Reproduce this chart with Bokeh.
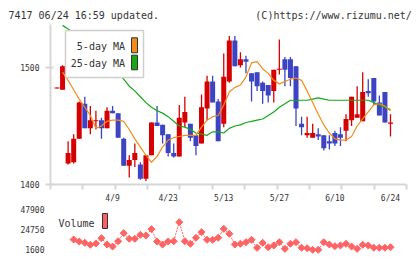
import numpy as np
from bokeh.plotting import figure
from bokeh.layouts import column
from bokeh.models import Range1d, FixedTicker, ColumnDataSource
from bokeh.core.properties import value
from bokeh.embed import file_html
from bokeh.resources import INLINE

nan = float("nan")

# ---- data ----
opens = [1482, 1481, 1418, 1419, 1439, 1469, 1448, 1454, 1455, 1448,
         1463, 1461, 1439, 1416, 1421, 1417, 1405, 1425, 1453, 1451,
         1443, 1427, 1424, 1453, 1452, 1442, 1435, 1465, 1488, 1471,
         1452, 1488, 1523, 1502, 1507, 1495, 1496, 1487, 1485, 1480,
         1498, 1507, 1507, 1501, 1452, 1442, 1440, 1443, 1442, 1437,
         1444, 1443, 1446, 1455, 1457, 1454, 1480, 1491, 1470, 1479, 1452]
highs = [1483, 1502, 1437, 1443, 1471, 1475, 1467, 1463, 1457, 1466,
         1467, 1461, 1440, 1425, 1435, 1419, 1425, 1453, 1467, 1451,
         1443, 1435, 1468, 1475, 1452, 1442, 1477, 1493, 1493, 1473,
         1512, 1527, 1527, 1513, 1510, 1495, 1496, 1488, 1485, 1498,
         1524, 1509, 1509, 1501, 1458, 1458, 1452, 1448, 1442, 1442,
         1446, 1449, 1460, 1475, 1484, 1496, 1490, 1491, 1476, 1479, 1460]
lows = [1482, 1481, 1417, 1418, 1439, 1448, 1443, 1447, 1439, 1448,
        1461, 1440, 1416, 1406, 1415, 1404, 1403, 1425, 1450, 1435,
        1424, 1423, 1424, 1449, 1437, 1425, 1435, 1455, 1470, 1437,
        1449, 1487, 1501, 1500, 1495, 1471, 1480, 1469, 1470, 1470,
        1494, 1484, 1484, 1450, 1442, 1440, 1440, 1438, 1429, 1430,
        1433, 1433, 1437, 1450, 1457, 1454, 1475, 1468, 1459, 1453, 1441]
closes = [1483, 1501, 1427, 1439, 1470, 1448, 1455, 1455, 1448, 1463,
          1461, 1440, 1416, 1421, 1427, 1405, 1425, 1453, 1450, 1442,
          1427, 1424, 1457, 1462, 1440, 1433, 1466, 1488, 1470, 1437,
          1492, 1523, 1501, 1507, 1505, 1488, 1484, 1480, 1476, 1498,
          1499, 1498, 1491, 1465, 1449, 1444, 1444, 1441, 1431, 1435,
          1435, 1440, 1456, 1475, 1460, 1479, 1478, 1471, 1459, 1453, 1453]
ma5 = [nan, 1496, 1489, 1481, 1473, 1466, 1459, 1448, 1450, 1454, 1455,
       1455, 1454, 1447, 1439, 1432, 1425, 1419, 1424, 1432, 1438,
       1440, 1441, 1442, 1442, 1442, 1449, 1455, 1458, 1459, 1468,
       1479, 1483, 1485, 1492, 1504, 1505, 1499, 1495, 1489, 1486,
       1488, 1490, 1491, 1489, 1480, 1470, 1460, 1451, 1444, 1439,
       1438, 1438, 1441, 1450, 1456, 1462, 1468, 1469, 1467, 1463]
ma25 = [nan, 1536, 1533, 1530, 1526, 1521, 1516, 1512, 1508, 1503, 1499,
        1495, 1490, 1484, 1480, 1475, 1470, 1466, 1463, 1461, 1458,
        1454, 1450, 1449, 1447, 1444, 1443, 1442, 1445, 1445, 1444,
        1448, 1450, 1451, 1453, 1454, 1455, 1456, 1459, 1462, 1466,
        1469, 1472, 1472, 1472, 1472, 1473, 1474, 1473, 1472, 1472,
        1472, 1472, 1472, 1472, 1472, 1472, 1470, 1468, 1466, 1464]
volume = [13200, 11000, 9500, 7250, 8700, 14700, 7600, 5300, 11300, 20400,
          14000, 14000, 18500, 17800, 24900, 11000, 7600, 11000, 11300, 32800,
          11300, 8400, 15200, 21500, 12900, 12900, 15200, 25300, 19700, 7600,
          8400, 10200, 12900, 3900, 9500, 4500, 6500, 10200, 2700, 8400,
          10200, 3900, 3400, 1600, 1600, 10200, 7600, 5700, 6500, 8400,
          5300, 2700, 7300, 6500, 3900, 3900, 3900, 4500]
vol_first = 3
date_ticks = [10, 20, 30, 40, 50, 60]
date_labels = ["4/9", "4/23", "5/13", "5/27", "6/10", "6/24"]
price_ticks = [1400, 1500]
vol_ticks = [1600, 24750, 47900]
title_left = "7417 06/24 16:59 updated."
title_right = "(C)https://www.rizumu.net/"
legend_labels = ["5-day MA", "25-day MA"]
volume_label = "Volume"

# ---- style ----
FONT = "DejaVu Sans Mono"
RED = "#d70000"
BLUE = "#3c44c4"
ORANGE = "#f28c1a"
GREEN = "#16a816"
VOLC = "#ff6464"
AXC = "#d6d6d6"
TXT = "#333333"

# ---- main price chart ----
n = len(opens)
idx = list(range(n))
x_start, x_end = -1.17, 62.88
p = figure(width=420, height=205, x_range=Range1d(x_start, x_end),
           y_range=Range1d(1400, 1536.75), toolbar_location=None, output_backend="svg",
           min_border_left=50, min_border_right=14, min_border_top=24, min_border_bottom=21)
p.outline_line_color = None
p.xgrid.visible = False
p.ygrid.visible = False

# header line (left text, gap of non-breaking spaces, right text) as the plot title
p.title.text = title_left + "\u00a0" * 16 + title_right
p.title.align = "left"
p.title.offset = -42
p.title.standoff = 8
p.title.text_font = FONT
p.title.text_font_size = "10px"
p.title.text_font_style = "normal"
p.title.text_color = TXT

wk = [round(float(t), 6) for t in np.linspace(x_start, x_end, 12)]
wk[0], wk[-1] = x_start, x_end
p.xaxis.ticker = FixedTicker(ticks=date_ticks, minor_ticks=wk)
p.xaxis.major_label_overrides = {t: s for t, s in zip(date_ticks, date_labels)}
p.xaxis.major_label_standoff = 4
p.xaxis.major_label_text_font = FONT
p.xaxis.major_label_text_font_size = "8px"
p.xaxis.major_label_text_color = TXT
p.xaxis.axis_line_color = AXC
p.xaxis.axis_line_width = 2
p.xaxis.major_tick_line_color = None
p.xaxis.major_tick_in = 0
p.xaxis.major_tick_out = 0
p.xaxis.minor_tick_line_color = AXC
p.xaxis.minor_tick_line_width = 2
p.xaxis.minor_tick_in = 0
p.xaxis.minor_tick_out = 5

p.yaxis.ticker = FixedTicker(ticks=price_ticks)
p.yaxis.axis_line_color = AXC
p.yaxis.axis_line_width = 2
p.yaxis.major_tick_line_color = AXC
p.yaxis.major_tick_line_width = 2
p.yaxis.major_tick_in = 3
p.yaxis.major_tick_out = 5
p.yaxis.minor_tick_line_color = None
p.yaxis.major_label_standoff = 6
p.yaxis.major_label_text_font = FONT
p.yaxis.major_label_text_font_size = "8px"
p.yaxis.major_label_text_color = TXT

colors = [RED if c >= o else BLUE for o, c in zip(opens, closes)]
src = ColumnDataSource(dict(
    x=idx, o=opens, h=highs, l=lows, c=closes, color=colors,
    top=[max(o, c) for o, c in zip(opens, closes)],
    bot=[min(o, c) for o, c in zip(opens, closes)],
))
p.segment(x0="x", y0="h", x1="x", y1="l", line_color="color", line_width=1.3, source=src)
p.vbar(x="x", width=0.9, top="top", bottom="bot", fill_color="color", line_color=None, source=src)
p.line(idx, ma25, line_color=GREEN, line_width=1.2)
p.line(idx, ma5, line_color=ORANGE, line_width=1.2)

# legend, in frame-pixel coordinates
p.extra_x_ranges = {"fx": Range1d(0, 356)}
p.extra_y_ranges = {"fy": Range1d(160, 0)}
p.quad(left=[15], right=[93], top=[6], bottom=[53], fill_color="white",
       line_color="#cfcfcf", line_width=1.5, x_range_name="fx", y_range_name="fy")
p.quad(left=[81, 81], right=[87, 87], top=[13.3, 30.7], bottom=[28.3, 45.3],
       fill_color=[ORANGE, GREEN], line_color="#333333", line_width=1,
       x_range_name="fx", y_range_name="fy")
p.text(x=[74.5, 74.5], y=[22, 39], text=legend_labels, text_align="right",
       text_baseline="middle", text_font=value(FONT), text_font_size="10px",
       text_color=TXT, x_range_name="fx", y_range_name="fy")

# ---- volume chart ----
v = figure(width=420, height=54, x_range=p.x_range, y_range=Range1d(-4837, 51627),
           x_axis_location=None, toolbar_location=None, output_backend="svg",
           min_border_left=50, min_border_right=14, min_border_top=0, min_border_bottom=4)
v.outline_line_color = None
v.xgrid.visible = False
v.ygrid.visible = False
v.yaxis.ticker = FixedTicker(ticks=vol_ticks)
v.yaxis.axis_line_color = None
v.yaxis.major_tick_line_color = None
v.yaxis.minor_tick_line_color = None
v.yaxis.major_tick_in = 0
v.yaxis.major_tick_out = 0
v.yaxis.major_label_standoff = 6
v.yaxis.major_label_text_font = FONT
v.yaxis.major_label_text_font_size = "8px"
v.yaxis.major_label_text_color = TXT

vx = list(range(vol_first, vol_first + len(volume)))
v.line(vx, volume, line_color=VOLC, line_width=1, line_dash="2 1")
v.scatter(vx, volume, marker="square", size=5, angle=np.pi / 4,
          fill_color=VOLC, line_color=VOLC, line_width=1)

v.extra_x_ranges = {"fx": Range1d(0, 356)}
v.extra_y_ranges = {"fy": Range1d(50, 0)}
v.text(x=[8], y=[17.5], text=[volume_label], text_baseline="middle", text_align="left",
       text_font=value(FONT), text_font_size="10px", text_color=TXT,
       x_range_name="fx", y_range_name="fy")
v.quad(left=[52], right=[57], top=[8], bottom=[23], fill_color="#ff5f5f",
       line_color="#333333", line_width=1, x_range_name="fx", y_range_name="fy")

layout = column(p, v, spacing=0)
open("out.html", "w").write(file_html(layout, INLINE))
